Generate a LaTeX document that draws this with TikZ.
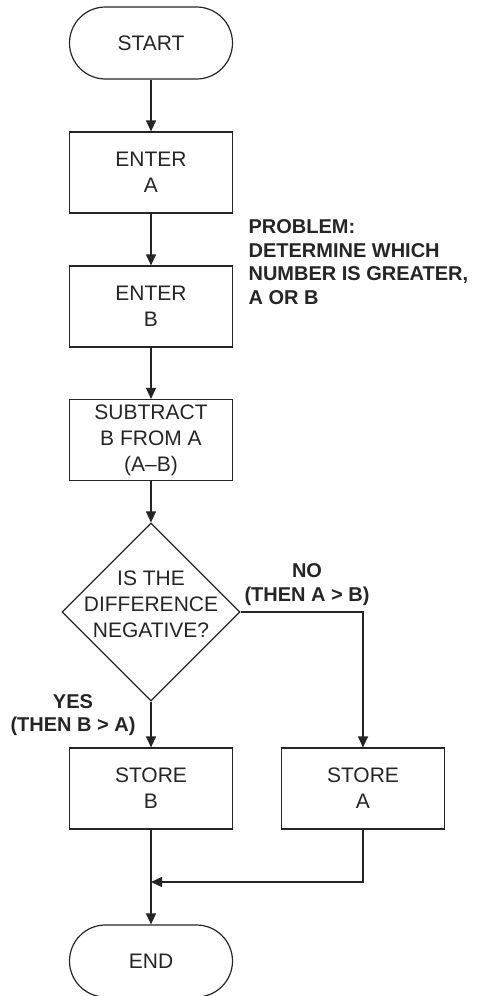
\documentclass[tikz,border=0pt]{standalone}
\usepackage{fontspec}
\setmainfont{Liberation Sans}
\usetikzlibrary{arrows.meta,shapes.geometric}
\definecolor{ink}{RGB}{38,36,36}
\begin{document}
\begin{tikzpicture}[x=1pt,y=-1pt,
  line width=1.2pt, draw=ink, text=ink,
  every node/.style={font=\fontsize{21pt}{26pt}\selectfont, align=center},
  terminal/.style={draw, minimum width=163pt, minimum height=72pt, rounded corners=36pt, inner sep=0pt},
  process/.style={draw, minimum width=163pt, minimum height=81pt, inner sep=0pt},
  decision/.style={draw, diamond, minimum width=178pt, minimum height=178pt, inner sep=0pt},
  note/.style={font=\fontsize{20pt}{23.5pt}\selectfont\bfseries},
  arr/.style={-{Triangle[length=11pt,width=10pt]}}
]
\useasboundingbox (0,0) rectangle (483,996);

% main column
\node[terminal] (start) at (151,43) {START};
\node[process] (ea) at (151,172.5) {ENTER\\A};
\node[process] (eb) at (151,306.5) {ENTER\\B};
\node[process] (sub) at (151,440) {SUBTRACT\\B FROM A\\(A--B)};
\node[decision] (dec) at (151,612) {};
\node (dectext) at (151,604) {IS THE\\DIFFERENCE\\NEGATIVE?};
\node[process] (sb) at (151,788.5) {STORE\\B};
\node[process] (sa) at (363,788.5) {STORE\\A};
\node[terminal] (end) at (151,961) {END};
\coordinate (merge) at (151,882);

% notes
\node[note, anchor=west, align=left, inner sep=0pt] (problem) at (248,262)
  {PROBLEM:\\DETERMINE WHICH\\NUMBER IS GREATER,\\A OR B};
\node[note] (nolabel) at (307,584.5) {NO\\(THEN A > B)};
\node[note] (yeslabel) at (73,715) {YES\\(THEN B > A)};

% connectors
\draw[arr] (start) -- (ea);
\draw[arr] (ea) -- (eb);
\draw[arr] (eb) -- (sub);
\draw[arr] (sub) -- (dec);
\draw[arr] (dec) -- (sb);
\draw[arr] (dec.east) -| (sa.north);
\draw[arr] (sb) -- (end);
\draw[arr] (sa.south) |- (merge);
\end{tikzpicture}
\end{document}
